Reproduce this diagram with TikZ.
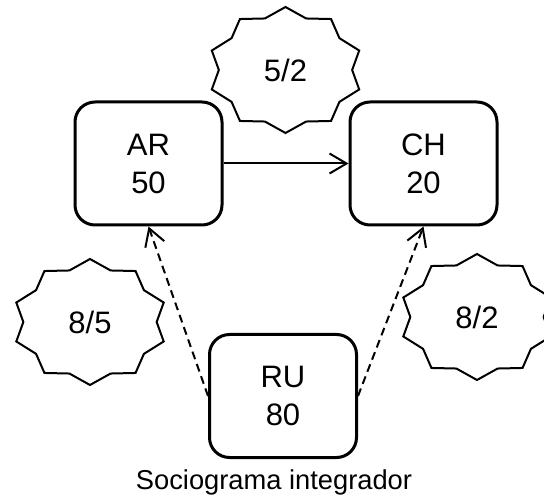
\documentclass[tikz,border=0pt]{standalone}
\usepackage{fontspec}
\setmainfont{Liberation Sans}
\usetikzlibrary{arrows.meta}
\newcommand\mkburst[1]{%
  \draw[burst,shift={(#1.center)}] plot[samples at={0,1,...,19}, variable=\k]
    ({77.5*(1-0.14*mod(\k,2))*cos(90+18*\k)}, {63*(1-0.14*mod(\k,2))*sin(90+18*\k)}) -- cycle;}
\begin{document}
\begin{tikzpicture}[x=1pt,y=-1pt,
  box/.style={draw, line width=3pt, rounded corners=20pt, minimum width=147pt,
    minimum height=123pt, align=center, inner sep=0pt,
    font=\fontsize{31}{38}\selectfont},
  burst/.style={draw, line width=2pt, fill=white, line join=miter},
  lbl/.style={font=\fontsize{31}{36}\selectfont, inner sep=0pt},
  capt/.style={font=\fontsize{27.3}{33}\selectfont, inner sep=0pt, anchor=base},
  link/.style={line width=2pt, -{Straight Barb[length=17pt,width=20pt]}},
  dlink/.style={link, dash pattern=on 8pt off 5pt}]
\useasboundingbox (0,0) rectangle (544,497);
\clip (0,0) rectangle (544,497);
% bursts
\coordinate (b52) at (285.5,70);
\coordinate (b85) at (90,322);
\coordinate (b82) at (477,317);
\mkburst{b52}
\mkburst{b85}
\mkburst{b82}
\node[lbl] (t52) at (b52) {5/2};
\node[lbl] (t85) at (b85) {8/5};
\node[lbl] (t82) at (b82) {8/2};
% boxes
\node[box] (AR) at (148.5,163.5) {AR\\50};
\node[box] (CH) at (423.5,163.5) {CH\\20};
\node[box] (RU) at (283,396) {RU\\80};
% connectors
\draw[link] (AR) -- (CH);
\draw[dlink] (RU.west) -- (AR.south);
\draw[dlink] (RU.east) -- (CH.south);
\node[capt] (cap) at (274,489) {Sociograma integrador};
\end{tikzpicture}
\end{document}
